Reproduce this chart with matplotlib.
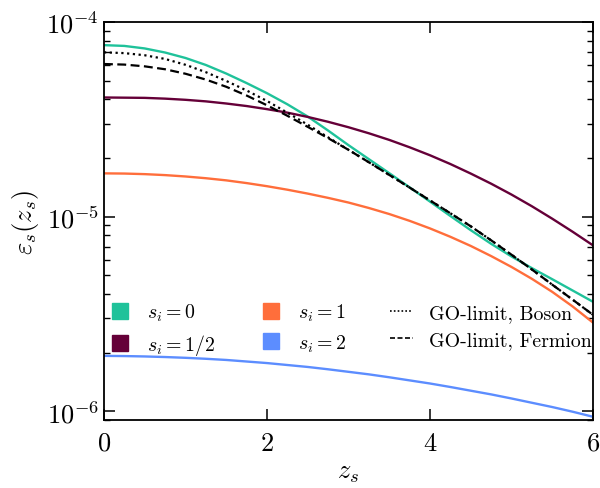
import numpy as np
import matplotlib
matplotlib.use("Agg")
import matplotlib.pyplot as plt
from matplotlib.lines import Line2D

plt.rcParams['font.family'] = 'serif'
plt.rcParams['font.serif'] = ['cmr10']
plt.rcParams['mathtext.fontset'] = 'cm'
plt.rcParams['axes.formatter.use_mathtext'] = True

# z_s sample points and log10(epsilon_s)
z = [0.0, 0.25, 0.5, 0.75, 1.0, 1.25, 1.5, 1.75, 2.0, 2.25, 2.5, 2.75, 3.0,
     3.25, 3.5, 3.75, 4.0, 4.25, 4.5, 4.75, 5.0, 5.25, 5.5, 5.75, 6.0]
log_s0 = [-4.119, -4.123, -4.136, -4.157, -4.185, -4.221, -4.265, -4.314, -4.366, -4.423, -4.486, -4.558, -4.633,
          -4.705, -4.777, -4.850, -4.923, -4.997, -5.070, -5.140, -5.205, -5.265, -5.322, -5.380, -5.438]
log_s12 = [-4.388, -4.389, -4.390, -4.394, -4.400, -4.408, -4.419, -4.432, -4.448, -4.466, -4.488, -4.513, -4.541,
           -4.572, -4.606, -4.644, -4.685, -4.730, -4.779, -4.831, -4.887, -4.947, -5.011, -5.078, -5.148]
log_s1 = [-4.778, -4.779, -4.782, -4.787, -4.794, -4.803, -4.814, -4.828, -4.844, -4.862, -4.882, -4.904, -4.928,
          -4.956, -4.987, -5.022, -5.061, -5.104, -5.151, -5.203, -5.259, -5.320, -5.387, -5.462, -5.545]
log_s2 = [-5.716, -5.717, -5.719, -5.722, -5.726, -5.731, -5.737, -5.745, -5.753, -5.763, -5.773, -5.785, -5.798,
          -5.811, -5.826, -5.842, -5.858, -5.876, -5.895, -5.914, -5.935, -5.957, -5.979, -6.003, -6.029]
log_boson = [-4.156, -4.160, -4.171, -4.190, -4.220, -4.258, -4.303, -4.352, -4.406, -4.466, -4.528, -4.593, -4.657,
             -4.721, -4.786, -4.851, -4.917, -4.983, -5.050, -5.122, -5.196, -5.272, -5.350, -5.427, -5.505]
log_fermion = [-4.216, -4.219, -4.228, -4.243, -4.266, -4.296, -4.333, -4.378, -4.428, -4.482, -4.539, -4.597, -4.657,
               -4.721, -4.786, -4.851, -4.917, -4.983, -5.050, -5.122, -5.196, -5.272, -5.350, -5.427, -5.505]

labels = [r'$s_i = 0$', r'$s_i = 1/2$', r'$s_i = 1$', r'$s_i = 2$']
colors = ['#1FC29A', '#650038', '#FF6E3B', '#5C8DFF']

fig = plt.figure(figsize=(6.0, 4.89), dpi=100)
ax = fig.add_axes([0.1733, 0.139, 0.8150, 0.814])

for ys, c in zip([log_s0, log_s12, log_s1, log_s2], colors):
    ax.plot(z, 10 ** np.array(ys), color=c, lw=1.7)
ax.plot(z, 10 ** np.array(log_boson), color='k', lw=1.6, ls=(0, (1, 1.6)))
ax.plot(z, 10 ** np.array(log_fermion), color='k', lw=1.6, ls=(0, (4, 2)))

ax.set_yscale('log')
ax.set_xlim(0, 6)
ax.set_ylim(9e-7, 1e-4)
ax.set_xticks([0, 2, 4, 6])
ax.tick_params(which='both', direction='in', top=True, right=True, labelsize=19)
ax.tick_params(which='major', length=8, width=1.1)
ax.tick_params(which='minor', length=4, width=1.0)
ax.tick_params(axis='x', pad=8)
ax.minorticks_off()
ax.yaxis.set_minor_locator(matplotlib.ticker.LogLocator(base=10, subs=np.arange(2, 10)))
ax.yaxis.set_minor_formatter(matplotlib.ticker.NullFormatter())
for sp in ax.spines.values():
    sp.set_linewidth(1.3)

ax.set_xlabel(r'$z_s$', fontsize=19)
ax.set_ylabel(r'$\varepsilon_s(z_s)$', fontsize=19)

handles = [Line2D([], [], ls='none', marker='s', ms=11.5, color=c) for c in colors]
handles.append(Line2D([], [], color='k', lw=1.2, ls=(0, (1, 1.3))))
handles.append(Line2D([], [], color='k', lw=1.2, ls=(0, (3, 1.5))))
leg_labels = labels + ['GO-limit, Boson', 'GO-limit, Fermion']
ax.legend(handles, leg_labels, ncol=3, loc='upper left', bbox_to_anchor=(0.009, 0.297),
          frameon=False, fontsize=14.3, handlelength=1.15, handletextpad=0.8,
          columnspacing=2.2, labelspacing=0.45, borderpad=0, borderaxespad=0)

fig.savefig('out.png', dpi=100)
